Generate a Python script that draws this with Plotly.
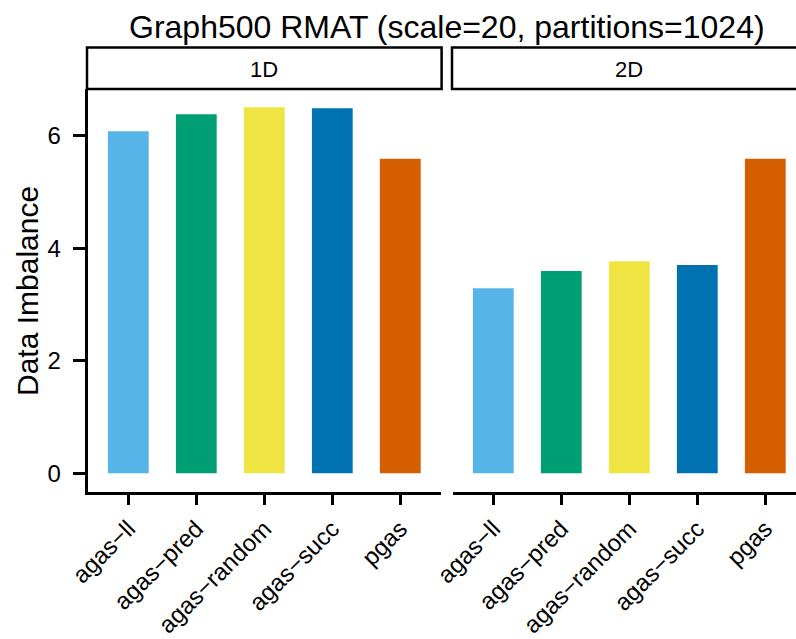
import plotly.graph_objects as go

W, H = 796, 639

categories = ["agas\u2212ll", "agas\u2212pred", "agas\u2212random", "agas\u2212succ", "pgas"]
colors = ["#56B4E9", "#009E73", "#F0E442", "#0072B2", "#D55E00"]
panels = ["1D", "2D"]
vals_1d = [6.08, 6.38, 6.505, 6.49, 5.59]
vals_2d = [3.29, 3.595, 3.77, 3.70, 5.59]
y_ticks = [0, 2, 4, 6]
title = "Graph500 RMAT (scale=20, partitions=1024)"
y_title = "Data Imbalance"

FONT = "Liberation Sans, Arial, Helvetica, sans-serif"

def px_x(p):
    return p / W

def px_y(p):
    return (H - p) / H

fig = go.Figure()
fig.add_trace(go.Bar(x=categories, y=vals_1d, marker=dict(color=colors, line=dict(width=0)),
                     width=0.6, xaxis="x", yaxis="y", showlegend=False))
fig.add_trace(go.Bar(x=categories, y=vals_2d, marker=dict(color=colors, line=dict(width=0)),
                     width=0.6, xaxis="x2", yaxis="y2", showlegend=False))

yr = [-0.325, 6.83]
pan_top, pan_bot = 89, 491.5
x1l, x1r = 87.5, 441.1
x2l = 452.5
x2max = (W - x2l) / 68.0 - 0.6

common_x = dict(type="category", showgrid=False, zeroline=False, showline=True,
                linecolor="black", linewidth=2.5, ticks="outside", ticklen=11,
                tickwidth=2.5, tickcolor="black", tickangle=-45, automargin=False,
                tickfont=dict(family=FONT, size=24, color="black"), fixedrange=True)

fig.update_layout(
    width=W, height=H,
    margin=dict(l=0, r=0, t=0, b=0),
    plot_bgcolor="white", paper_bgcolor="white",
    xaxis=dict(domain=[px_x(x1l), px_x(x1r)], range=[-0.6, 4.6], anchor="y", **common_x),
    xaxis2=dict(domain=[px_x(x2l), 1.0], range=[-0.6, x2max], anchor="y2", **common_x),
    yaxis=dict(domain=[px_y(pan_bot), px_y(pan_top)], range=yr, anchor="x",
               tickvals=y_ticks, showgrid=False, zeroline=False, showline=True,
               linecolor="black", linewidth=2.5, ticks="outside", ticklen=12,
               tickwidth=2.5, tickcolor="black", ticklabelstandoff=7, automargin=False,
               tickfont=dict(family=FONT, size=24, color="black")),
    yaxis2=dict(domain=[px_y(pan_bot), px_y(pan_top)], range=yr, anchor="x2",
                showgrid=False, zeroline=False, showline=False, showticklabels=False,
                ticks="", automargin=False),
)

# facet strips
strip_top, strip_bot = 47.5, 89
fig.add_shape(type="rect", xref="paper", yref="paper",
              x0=px_x(x1l - 0.5), x1=px_x(x1r + 0.5), y0=px_y(strip_bot), y1=px_y(strip_top),
              line=dict(color="black", width=2.5), fillcolor="white")
fig.add_shape(type="rect", xref="paper", yref="paper",
              x0=px_x(x2l - 0.5), x1=px_x(W + 20), y0=px_y(strip_bot), y1=px_y(strip_top),
              line=dict(color="black", width=2.5), fillcolor="white")

fig.add_annotation(text=panels[0], x=px_x((x1l + x1r) / 2), y=px_y(69), xref="paper", yref="paper",
                   showarrow=False, xanchor="center", yanchor="middle",
                   font=dict(family=FONT, size=22, color="black"))
fig.add_annotation(text=panels[1], x=px_x((x2l + x2l + 353.6) / 2), y=px_y(69), xref="paper", yref="paper",
                   showarrow=False, xanchor="center", yanchor="middle",
                   font=dict(family=FONT, size=22, color="black"))

fig.add_annotation(text=title, x=px_x((x1l + x2l + 353.6) / 2), y=px_y(27), xref="paper", yref="paper",
                   showarrow=False, xanchor="center", yanchor="middle",
                   font=dict(family=FONT, size=32, color="black"))
fig.add_annotation(text=y_title, x=px_x(27), y=px_y(291), xref="paper", yref="paper",
                   showarrow=False, xanchor="center", yanchor="middle", textangle=-90,
                   font=dict(family=FONT, size=30, color="black"))

fig.write_html("out.html")
